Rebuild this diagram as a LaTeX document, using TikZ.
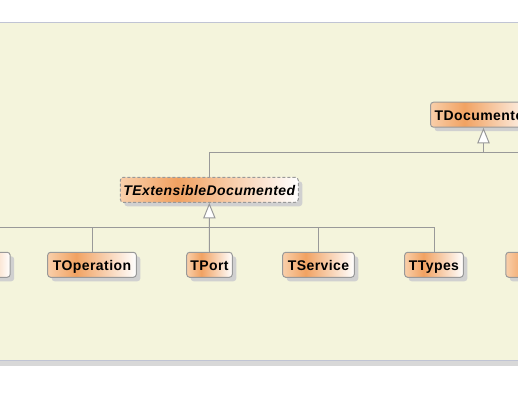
\documentclass[tikz,border=0pt]{standalone}
\usepackage{fontspec}
\setmainfont{Liberation Sans}
\newfontfamily\classfont[LetterSpace=3]{Liberation Sans}
\usepackage{tikz}
\usetikzlibrary{positioning,shadows,arrows.meta}

\definecolor{panelbg}{RGB}{244,244,220}
\definecolor{panelline}{RGB}{192,196,212}
\definecolor{panelfoot}{RGB}{216,216,216}
\definecolor{peachlight}{RGB}{249,207,170}
\definecolor{peachdark}{RGB}{241,162,98}
\definecolor{edgegray}{RGB}{153,153,153}
\definecolor{shadowgray}{RGB}{208,208,208}
\pgfdeclarehorizontalshading{classshade}{100bp}{color(0bp)=(peachlight); color(25bp)=(peachlight); color(41bp)=(peachdark); color(75bp)=(white); color(100bp)=(white)}

\tikzset{
  classbox/.style={draw=edgegray, line width=0.75pt, rounded corners=2.25pt,
    shading=classshade, minimum height=18.75pt, inner sep=0pt,
    text height=8.8pt, text depth=0pt,
    font=\classfont\bfseries\fontsize{10.5}{12}\selectfont,
    drop shadow={shadow xshift=3pt, shadow yshift=-3pt, fill=shadowgray, opacity=1}},
  abstractbox/.style={classbox, dash pattern=on 2.25pt off 1.5pt,
    font=\classfont\bfseries\itshape\fontsize{10.5}{12}\selectfont},
  edge/.style={draw=edgegray, line width=0.75pt},
  inherit/.style={edge, -{Triangle[width=9.3pt, length=11.7pt, fill=white]}}
}

\begin{document}
\begin{tikzpicture}[x=0.75pt, y=-0.75pt]
      \useasboundingbox (0,0) rectangle (518,403);
      % panel
      \fill[panelbg] (0,23) rectangle (518,360);
      \fill[panelfoot] (0,360) rectangle (518,366);
      \draw[panelline, line width=0.75pt] (0,23) -- (518,23);
      \draw[panelline, line width=0.75pt] (0,360.4) -- (518,360.4);
      % classes
      \node[classbox, minimum width=79.5pt] (doc) at (483.5,114.7) {TDocumented};
      \node[abstractbox, minimum width=133.5pt] (ext) at (209.3,189.8) {TExtensibleDocumented};
      \node[classbox, minimum width=45pt] (left) at (-19.8,264.8) {};
      \node[classbox, minimum width=66.5pt] (op) at (92,264.8) {TOperation};
      \node[classbox, minimum width=34.2pt] (port) at (209.5,264.8) {TPort};
      \node[classbox, minimum width=53.7pt] (serv) at (318.5,264.8) {TService};
      \node[classbox, minimum width=44pt] (types) at (434,264.8) {TTypes};
      \node[classbox, minimum width=45pt] (right) at (535.8,264.8) {};
      % generalisation lines
      \coordinate (busa) at (518,152.3);
      \coordinate (busb) at (0,227.3);
      \draw[edge] (ext.north) |- (busa);
      \draw[inherit] (doc.south |- busa) -- (doc.south);
      \draw[edge] (busb) -| (types.north);
      \draw[edge] (op.north) -- (op.north |- busb);
      \draw[edge] (serv.north) -- (serv.north |- busb);
      \draw[inherit] (port.north) -- (ext.south);
    \end{tikzpicture}
\end{document}
